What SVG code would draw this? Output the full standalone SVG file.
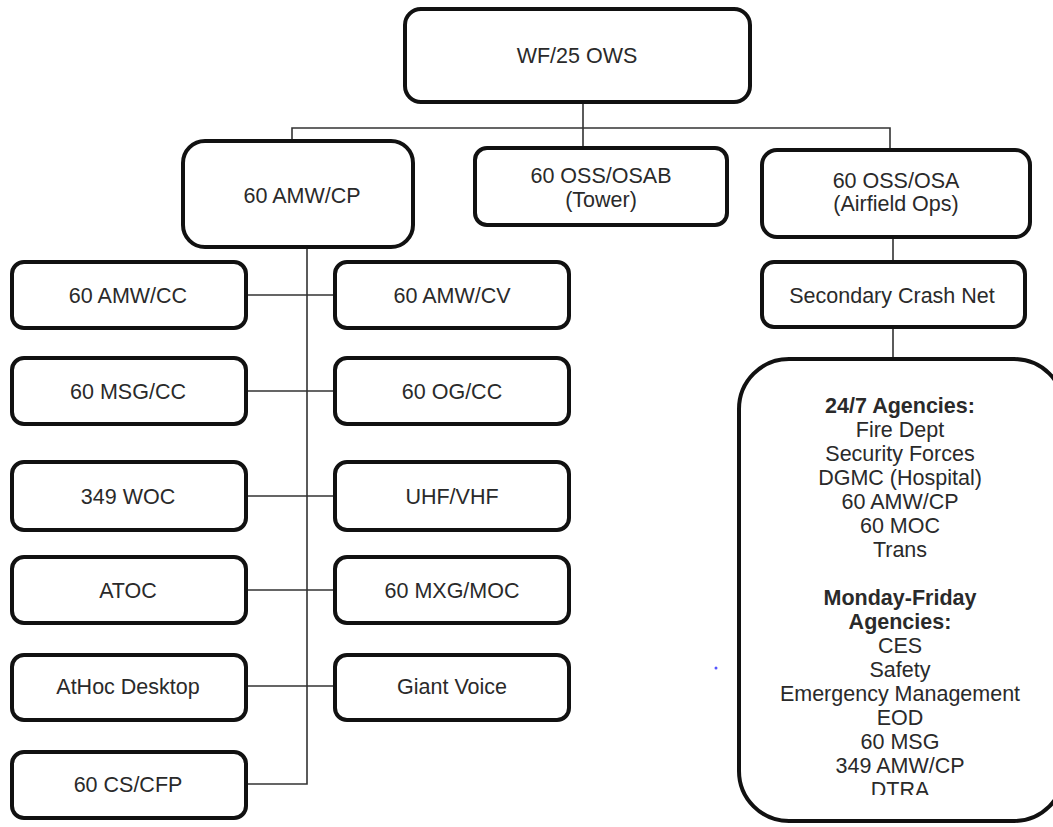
<svg xmlns="http://www.w3.org/2000/svg" width="1053" height="827" viewBox="0 0 1053 827">
<defs>
<style>
.box{fill:#fff;stroke:#111;stroke-width:4}
.t{font-family:"Liberation Sans",Arial,sans-serif;font-size:21.5px;fill:#2a2a2a;text-anchor:middle}
.b{font-weight:bold}
.c{fill:none;stroke:#333;stroke-width:1.6}
</style>
<clipPath id="clipBig"><rect x="730" y="350" width="330" height="445"/></clipPath>
</defs>
<rect width="1053" height="827" fill="#fff"/>
<g id="connectors">
<path class="c" d="M583 102V148M292 140V128H890V150"/>
<path class="c" d="M893 237V262M893 327V358"/>
<path class="c" d="M307 247V784H246"/>
<path class="c" d="M246 295H335M246 391H335M246 496H335M246 590H335M246 686H335"/>
</g>
<g id="n-wf25ows"><rect class="box" x="405" y="9" width="345" height="93" rx="16"/><text class="t" x="577" y="63">WF/25 OWS</text></g>
<g id="n-amwcp"><rect class="box" x="183" y="141" width="230" height="106" rx="22"/><text class="t" x="302" y="203">60 AMW/CP</text></g>
<g id="n-osab"><rect class="box" x="475" y="148" width="252" height="77" rx="12"/><text class="t" x="601" y="183">60 OSS/OSAB</text><text class="t" x="601" y="207">(Tower)</text></g>
<g id="n-osa"><rect class="box" x="762" y="150" width="268" height="87" rx="15"/><text class="t" x="896" y="188">60 OSS/OSA</text><text class="t" x="896" y="211">(Airfield Ops)</text></g>
<g id="n-crash"><rect class="box" x="762" y="262" width="263" height="65" rx="12"/><text class="t" x="892" y="303">Secondary Crash Net</text></g>
<g id="n-amwcc"><rect class="box" x="12" y="262" width="234" height="66" rx="12"/><text class="t" x="128" y="303">60 AMW/CC</text></g>
<g id="n-msgcc"><rect class="box" x="12" y="358" width="234" height="66" rx="12"/><text class="t" x="128" y="399">60 MSG/CC</text></g>
<g id="n-349woc"><rect class="box" x="12" y="462" width="234" height="68" rx="12"/><text class="t" x="128" y="504">349 WOC</text></g>
<g id="n-atoc"><rect class="box" x="12" y="557" width="234" height="66" rx="12"/><text class="t" x="128" y="598">ATOC</text></g>
<g id="n-athoc"><rect class="box" x="12" y="655" width="234" height="65" rx="12"/><text class="t" x="128" y="694">AtHoc Desktop</text></g>
<g id="n-cscfp"><rect class="box" x="12" y="752" width="234" height="66" rx="12"/><text class="t" x="128" y="792">60 CS/CFP</text></g>
<g id="n-amwcv"><rect class="box" x="335" y="262" width="234" height="66" rx="12"/><text class="t" x="452" y="303">60 AMW/CV</text></g>
<g id="n-ogcc"><rect class="box" x="335" y="358" width="234" height="66" rx="12"/><text class="t" x="452" y="399">60 OG/CC</text></g>
<g id="n-uhf"><rect class="box" x="335" y="462" width="234" height="68" rx="12"/><text class="t" x="452" y="504">UHF/VHF</text></g>
<g id="n-mxg"><rect class="box" x="335" y="557" width="234" height="66" rx="12"/><text class="t" x="452" y="598">60 MXG/MOC</text></g>
<g id="n-giant"><rect class="box" x="335" y="655" width="234" height="65" rx="12"/><text class="t" x="452" y="694">Giant Voice</text></g>
<g id="n-agencies">
<rect class="box" x="739" y="359" width="325" height="462" rx="50"/>
<g clip-path="url(#clipBig)">
<text class="t" x="900" y="413"><tspan class="b" x="900">24/7 Agencies:</tspan><tspan x="900" dy="24">Fire Dept</tspan><tspan x="900" dy="24">Security Forces</tspan><tspan x="900" dy="24">DGMC (Hospital)</tspan><tspan x="900" dy="24">60 AMW/CP</tspan><tspan x="900" dy="24">60 MOC</tspan><tspan x="900" dy="24">Trans</tspan><tspan class="b" x="900" dy="48">Monday-Friday</tspan><tspan class="b" x="900" dy="24">Agencies:</tspan><tspan x="900" dy="24">CES</tspan><tspan x="900" dy="24">Safety</tspan><tspan x="900" dy="24">Emergency Management</tspan><tspan x="900" dy="24">EOD</tspan><tspan x="900" dy="24">60 MSG</tspan><tspan x="900" dy="24">349 AMW/CP</tspan><tspan x="900" dy="24">DTRA</tspan></text>
</g>
</g>
<circle cx="716" cy="668" r="1.5" fill="#55f"/>
</svg>
